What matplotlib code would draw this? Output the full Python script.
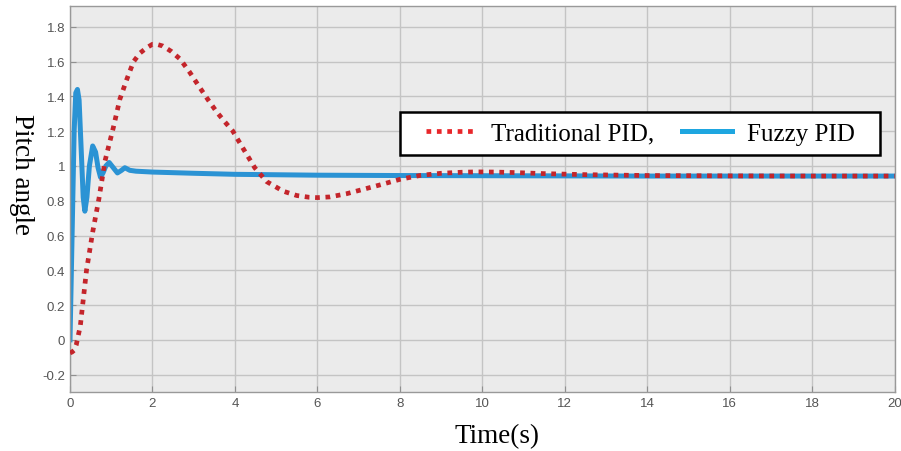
import matplotlib.pyplot as plt
from matplotlib.patches import Rectangle
import numpy as np

# Traditional PID response
t_pid = [0, 0.05, 0.1, 0.15, 0.25, 0.4, 0.55, 0.7, 0.85, 1.05, 1.21, 1.38, 1.54,
         1.7, 1.86, 2.0, 2.1, 2.25, 2.45, 2.67, 2.9, 3.15, 3.35, 3.56, 3.75, 3.95,
         4.2, 4.48, 4.77, 5.17, 5.5, 5.8, 6.0, 6.3, 6.7, 7.1, 7.5, 8.0, 8.5, 9.0,
         9.5, 9.86, 10.3, 10.8, 11.5, 12.5, 14, 16, 18, 20]
y_pid = [-0.075, -0.07, -0.06, -0.03, 0.08, 0.4, 0.62, 0.81, 1.03, 1.22, 1.385, 1.5, 1.6,
         1.65, 1.68, 1.70, 1.70, 1.69, 1.66, 1.615, 1.54, 1.45, 1.38, 1.31, 1.255, 1.2,
         1.1, 0.99, 0.91, 0.855, 0.83, 0.82, 0.818, 0.822, 0.84, 0.865, 0.89, 0.923, 0.946, 0.958,
         0.964, 0.966, 0.965, 0.962, 0.956, 0.95, 0.945, 0.943, 0.942, 0.942]

# Fuzzy PID response
t_fuzzy = [0, 0.05, 0.1, 0.14, 0.18, 0.22, 0.27, 0.32, 0.36, 0.41, 0.47, 0.55, 0.62,
           0.68, 0.74, 0.8, 0.87, 0.95, 1.05, 1.15, 1.25, 1.33, 1.45, 1.6, 2.0, 3.0,
           4.0, 6.0, 8.0, 10, 12, 14, 16, 18, 20]
y_fuzzy = [0, 0.6, 1.2, 1.42, 1.44, 1.38, 1.1, 0.82, 0.74, 0.82, 1.0, 1.115, 1.08,
           0.99, 0.935, 0.96, 1.0, 1.02, 0.99, 0.96, 0.975, 0.99, 0.975, 0.97, 0.965, 0.958,
           0.952, 0.947, 0.945, 0.944, 0.943, 0.942, 0.942, 0.942, 0.942]

yticks = [-0.2, 0, 0.2, 0.4, 0.6, 0.8, 1, 1.2, 1.4, 1.6, 1.8]
ytick_labels = ['-0.2', '0', '0.2', '0.4', '0.6', '0.8', '1', '1.2', '1.4', '1.6', '1.8']
xticks = [0, 2, 4, 6, 8, 10, 12, 14, 16, 18, 20]

fig = plt.figure(figsize=(9.01, 4.52), dpi=100)
ax = fig.add_axes([0.0777, 0.1305, 0.9153, 0.854])
ax.set_facecolor('#ebebeb')

ax.plot(t_pid, y_pid, color='#c4252b', lw=3.4, linestyle=(0, (1, 1.2)),
        label='Traditional PID,', zorder=3)
ax.plot(t_fuzzy, y_fuzzy, color='#2b93d4', lw=3.6, label='Fuzzy PID', zorder=2)

ax.set_xlim(0, 20)
ax.set_ylim(-0.3, 1.92)
ax.set_xticks(xticks)
ax.set_yticks(yticks)
ax.set_yticklabels(ytick_labels)
ax.grid(True, color='#c4c4c4', lw=1)
ax.set_axisbelow(True)
ax.tick_params(direction='in', colors='#909090', labelcolor='#555555', length=4)
for lbl in ax.get_xticklabels() + ax.get_yticklabels():
    lbl.set_family(['Liberation Sans', 'DejaVu Sans'])
    lbl.set_fontsize(9.5)
for s in ax.spines.values():
    s.set_color('#999999')
    s.set_linewidth(1.0)

serif = ['Liberation Serif', 'DejaVu Serif']
fig.text(0.552, 0.033, 'Time(s)', family=serif, fontsize=19.5, ha='center', va='center')
fig.text(0.024, 0.615, 'Pitch angle', family=serif, fontsize=19.5, ha='center',
         va='center', rotation=-90)

# legend box (wider horizontal padding than matplotlib gives)
box = Rectangle((0.4, 0.614), 0.5818, 0.1114, transform=ax.transAxes,
                facecolor='white', edgecolor='black', lw=1.8, zorder=5)
ax.add_patch(box)
leg = ax.legend(loc='center', bbox_to_anchor=(0.6915, 0.6697), ncol=2,
                prop={'family': serif, 'size': 18}, frameon=False,
                handlelength=2.0, columnspacing=1.1, handletextpad=0.6,
                borderpad=0, borderaxespad=0)
leg.set_zorder(6)
leg.get_lines()[0].set_color('#e8262a')
leg.get_lines()[1].set_color('#1ea6e0')

fig.savefig('out.png', dpi=100)
